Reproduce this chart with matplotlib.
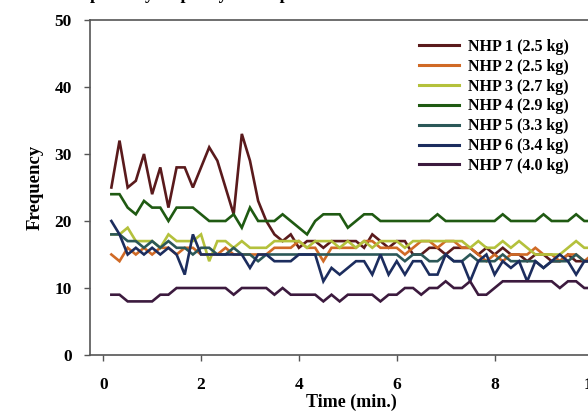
import matplotlib
matplotlib.use("Agg")
import matplotlib.pyplot as plt
import numpy as np

plt.rcParams['font.family'] = ['Liberation Serif', 'DejaVu Serif']
plt.rcParams['font.weight'] = 'bold'

# time points (min), 10-second intervals
time_min = [round(k / 6, 4) for k in range(1, 61)]

nhp1 = [25, 32, 25, 26, 30, 24, 28, 22, 28, 28, 25, 28, 31, 29, 25, 21, 33, 29, 23, 20,
        18, 17, 18, 16, 17, 17, 16, 17, 17, 17, 17, 16, 18, 17, 16, 17, 17, 15, 15, 16,
        16, 15, 16, 16, 16, 15, 16, 15, 16, 15, 15, 14, 15, 15, 14, 14, 15, 14, 14, 14]
nhp2 = [15, 14, 16, 15, 16, 15, 16, 16, 15, 16, 16, 15, 15, 15, 16, 15, 15, 15, 15, 15,
        16, 16, 16, 17, 16, 16, 14, 16, 16, 16, 16, 17, 17, 16, 16, 16, 15, 16, 17, 17,
        16, 17, 17, 16, 16, 15, 14, 15, 14, 15, 15, 15, 16, 15, 15, 14, 15, 15, 14, 15]
nhp3 = [18, 18, 19, 17, 17, 17, 16, 18, 17, 17, 17, 18, 14, 17, 17, 16, 17, 16, 16, 16,
        17, 17, 17, 17, 16, 17, 17, 17, 16, 17, 16, 17, 16, 17, 17, 17, 16, 17, 17, 17,
        17, 17, 17, 17, 16, 17, 16, 16, 17, 16, 17, 16, 15, 15, 15, 15, 16, 17, 16, 16]
nhp4 = [24, 24, 22, 21, 23, 22, 22, 20, 22, 22, 22, 21, 20, 20, 20, 21, 19, 22, 20, 20,
        20, 21, 20, 19, 18, 20, 21, 21, 21, 19, 20, 21, 21, 20, 20, 20, 20, 20, 20, 20,
        21, 20, 20, 20, 20, 20, 20, 20, 21, 20, 20, 20, 20, 21, 20, 20, 20, 21, 20, 20]
nhp5 = [18, 18, 17, 17, 16, 17, 16, 17, 16, 16, 15, 16, 16, 15, 15, 16, 15, 15, 14, 15,
        15, 15, 15, 15, 15, 15, 15, 15, 15, 15, 15, 15, 15, 15, 15, 15, 14, 15, 15, 14,
        14, 15, 14, 14, 15, 14, 14, 14, 15, 14, 14, 14, 14, 13, 14, 14, 14, 15, 14, 14]
nhp6 = [20, 18, 15, 16, 15, 16, 15, 16, 15, 12, 18, 15, 15, 15, 15, 15, 15, 13, 15, 15,
        14, 14, 14, 15, 15, 15, 11, 13, 12, 13, 14, 14, 12, 15, 12, 14, 12, 14, 14, 12,
        12, 15, 14, 14, 11, 14, 15, 12, 14, 13, 14, 11, 14, 13, 14, 15, 14, 12, 14, 14]
nhp7 = [9, 9, 8, 8, 8, 8, 9, 9, 10, 10, 10, 10, 10, 10, 10, 9, 10, 10, 10, 10,
        9, 10, 9, 9, 9, 9, 8, 9, 8, 9, 9, 9, 9, 8, 9, 9, 10, 10, 9, 10,
        10, 11, 10, 10, 11, 9, 9, 10, 11, 11, 11, 11, 11, 11, 11, 10, 11, 11, 10, 10]

series = [nhp1, nhp2, nhp3, nhp4, nhp5, nhp6, nhp7]
labels = ["NHP 1 (2.5 kg)", "NHP 2 (2.5 kg)", "NHP 3 (2.7 kg)", "NHP 4 (2.9 kg)",
          "NHP 5 (3.3 kg)", "NHP 6 (3.4 kg)", "NHP 7 (4.0 kg)"]
colors = ["#5a1a1c", "#d06a26", "#b4c13c", "#1f5a12", "#2c5858", "#1c2d5e", "#3c1a3e"]

x_ticks = [0, 2, 4, 6, 8, 10]
y_ticks = [0, 10, 20, 30, 40, 50]

W, H = 588, 413
fig = plt.figure(figsize=(W / 100, H / 100), dpi=100)
ax_left, ax_right, ax_top, ax_bottom = 90, 612, 20, 355
ax = fig.add_axes([ax_left / W, (H - ax_bottom) / H, (ax_right - ax_left) / W,
                   (ax_bottom - ax_top) / H])

for vals, lab, col in zip(series, labels, colors):
    ax.plot(time_min, vals, color=col, lw=1.9, label=lab, solid_joinstyle='miter')

ax.set_xlim(-0.27, 10.4)
ax.set_ylim(0, 50)
ax.set_xticks(x_ticks)
ax.set_yticks(y_ticks)
ax.tick_params(axis='both', labelsize=12.5, length=4, width=1, color='#555555')
ax.tick_params(axis='y', pad=9)
ax.tick_params(axis='x', pad=12)
for lab in ax.get_xticklabels() + ax.get_yticklabels():
    lab.set_fontweight('bold')
for sp in ax.spines.values():
    sp.set_color('#555555')
    sp.set_linewidth(1.2)

ax.set_xlabel("Time (min.)", fontsize=13, fontweight='bold', labelpad=0)
ax.set_ylabel("Frequency", fontsize=13.5, fontweight='bold', labelpad=8)

leg = ax.legend(loc='upper left', bbox_to_anchor=(419 / W, 1 - 39 / H),
                bbox_transform=fig.transFigure, frameon=False, fontsize=11.5,
                handlelength=2.5, handletextpad=0.55, labelspacing=0.24, borderpad=0,
                borderaxespad=0)
for t in leg.get_texts():
    t.set_fontweight('bold')
for l in leg.get_lines():
    l.set_linewidth(2.2)

fig.text(62 / W, 1 + 1.5 / H, "Respiratory Capacity at Respiration",
         fontsize=13, fontweight='bold', ha='left', va='baseline')

fig.savefig("out.png", dpi=100)
